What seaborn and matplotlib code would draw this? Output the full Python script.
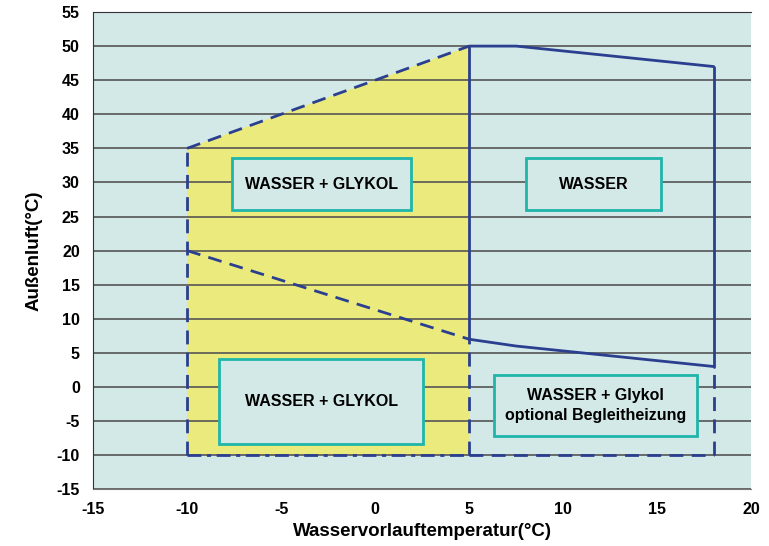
import matplotlib
matplotlib.use("Agg")
import matplotlib.pyplot as plt
from matplotlib.patches import Rectangle, Polygon
import seaborn as sns
import pandas as pd

# Einsatzgrenzen (Wasservorlauf °C, Außenluft °C)
upper_dashed_x = [-10, 5]
upper_dashed_y = [35, 50]
upper_solid_x = [5, 7.5, 18]
upper_solid_y = [50, 50, 47]
lower_dashed_x = [-10, 5]
lower_dashed_y = [20, 7]
lower_solid_x = [5, 7.5, 18]
lower_solid_y = [7, 6, 3]
x_min_glykol = -10
x_split = 5
x_max = 18
y_bottom = -10

# Beschriftungsboxen: (x0, x1, y0, y1, text)
box_x0 = [-7.6, 8.0, -8.3, 6.3]
box_x1 = [1.9, 15.2, 2.55, 17.1]
box_y0 = [25.9, 25.9, -8.4, -7.2]
box_y1 = [33.6, 33.6, 4.1, 1.7]
box_text = ["WASSER + GLYKOL", "WASSER", "WASSER + GLYKOL",
            "WASSER + Glykol\noptional Begleitheizung"]

x_ticks = [-15, -10, -5, 0, 5, 10, 15, 20]
y_ticks = list(range(-15, 60, 5))

BG = "#d3e9e7"
YELLOW = "#ebeb7d"
BLUE = "#2b3f90"
TEAL = "#1fb5ab"

sns.set_style("white")
plt.rcParams['font.family'] = ['Liberation Sans Narrow', 'Liberation Sans', 'DejaVu Sans']
plt.rcParams['axes.unicode_minus'] = False
plt.rcParams['text.color'] = 'black'
plt.rcParams['axes.labelcolor'] = 'black'
plt.rcParams['xtick.color'] = 'black'
plt.rcParams['ytick.color'] = 'black'

fig = plt.figure(figsize=(7.69, 5.46), dpi=100)
ax = fig.add_axes([0.121, 0.104, 0.856, 0.874])
ax.set_facecolor(BG)

# gelber Bereich (Glykol erforderlich)
poly = Polygon([(x_min_glykol, y_bottom), (x_min_glykol, upper_dashed_y[0]),
                (x_split, upper_dashed_y[1]), (x_split, y_bottom)],
               closed=True, facecolor=YELLOW, edgecolor='none', zorder=1)
ax.add_patch(poly)

for y in y_ticks:
    ax.axhline(y, color='#555555', lw=1.2, zorder=2)

lw = 2.0
dash = (5, 3)
def line(xs, ys, style):
    df = pd.DataFrame({"x": xs, "y": ys})
    sns.lineplot(data=df, x="x", y="y", sort=False, estimator=None,
                 color=BLUE, lw=lw, ax=ax, zorder=4)
    ln = ax.lines[-1]
    if style == 'dashed':
        ln.set_dashes(dash)
    elif style == 'dashdot':
        ln.set_dashes((5, 2, 1.5, 2))

line(upper_dashed_x, upper_dashed_y, 'dashed')
line(upper_solid_x, upper_solid_y, 'solid')
line(lower_dashed_x, lower_dashed_y, 'dashed')
line(lower_solid_x, lower_solid_y, 'solid')
line([x_min_glykol, x_min_glykol], [y_bottom, upper_dashed_y[0]], 'dashed')
line([x_min_glykol, x_split], [y_bottom, y_bottom], 'dashdot')
line([x_split, x_split], [lower_solid_y[0], upper_solid_y[0]], 'solid')
line([x_split, x_split], [y_bottom, lower_solid_y[0]], 'dashed')
line([x_max, x_max], [lower_solid_y[-1], upper_solid_y[-1]], 'solid')
line([x_max, x_max], [y_bottom, lower_solid_y[-1]], 'dashed')
line([x_split, x_max], [y_bottom, y_bottom], 'dashed')

for x0, x1, y0, y1, t in zip(box_x0, box_x1, box_y0, box_y1, box_text):
    ax.add_patch(Rectangle((x0, y0), x1 - x0, y1 - y0, facecolor=BG,
                           edgecolor=TEAL, lw=2, zorder=5))
    ax.text((x0 + x1) / 2, (y0 + y1) / 2, t, ha='center', va='center',
            fontsize=11.5, fontweight='bold', linespacing=1.4, zorder=6)

ax.set_xlim(-15, 20)
ax.set_ylim(-15, 55)
ax.set_xticks(x_ticks)
ax.set_yticks(y_ticks)
ax.tick_params(axis='both', length=6, width=1, color='#333333', labelsize=11.5, direction='out')
for lab in ax.get_xticklabels() + ax.get_yticklabels():
    lab.set_fontweight('bold')
ax.set_xlabel("Wasservorlauftemperatur(°C)", fontsize=13.5, fontweight='bold', labelpad=4)
ax.set_ylabel("Außenluft(°C)", fontsize=13.5, fontweight='bold', labelpad=10)
ax.spines['right'].set_visible(False)
ax.spines['top'].set_color('#333333')
ax.spines['left'].set_color('#333333')
ax.spines['bottom'].set_color('#777777')
ax.grid(False)

fig.savefig("out.png", dpi=100)
